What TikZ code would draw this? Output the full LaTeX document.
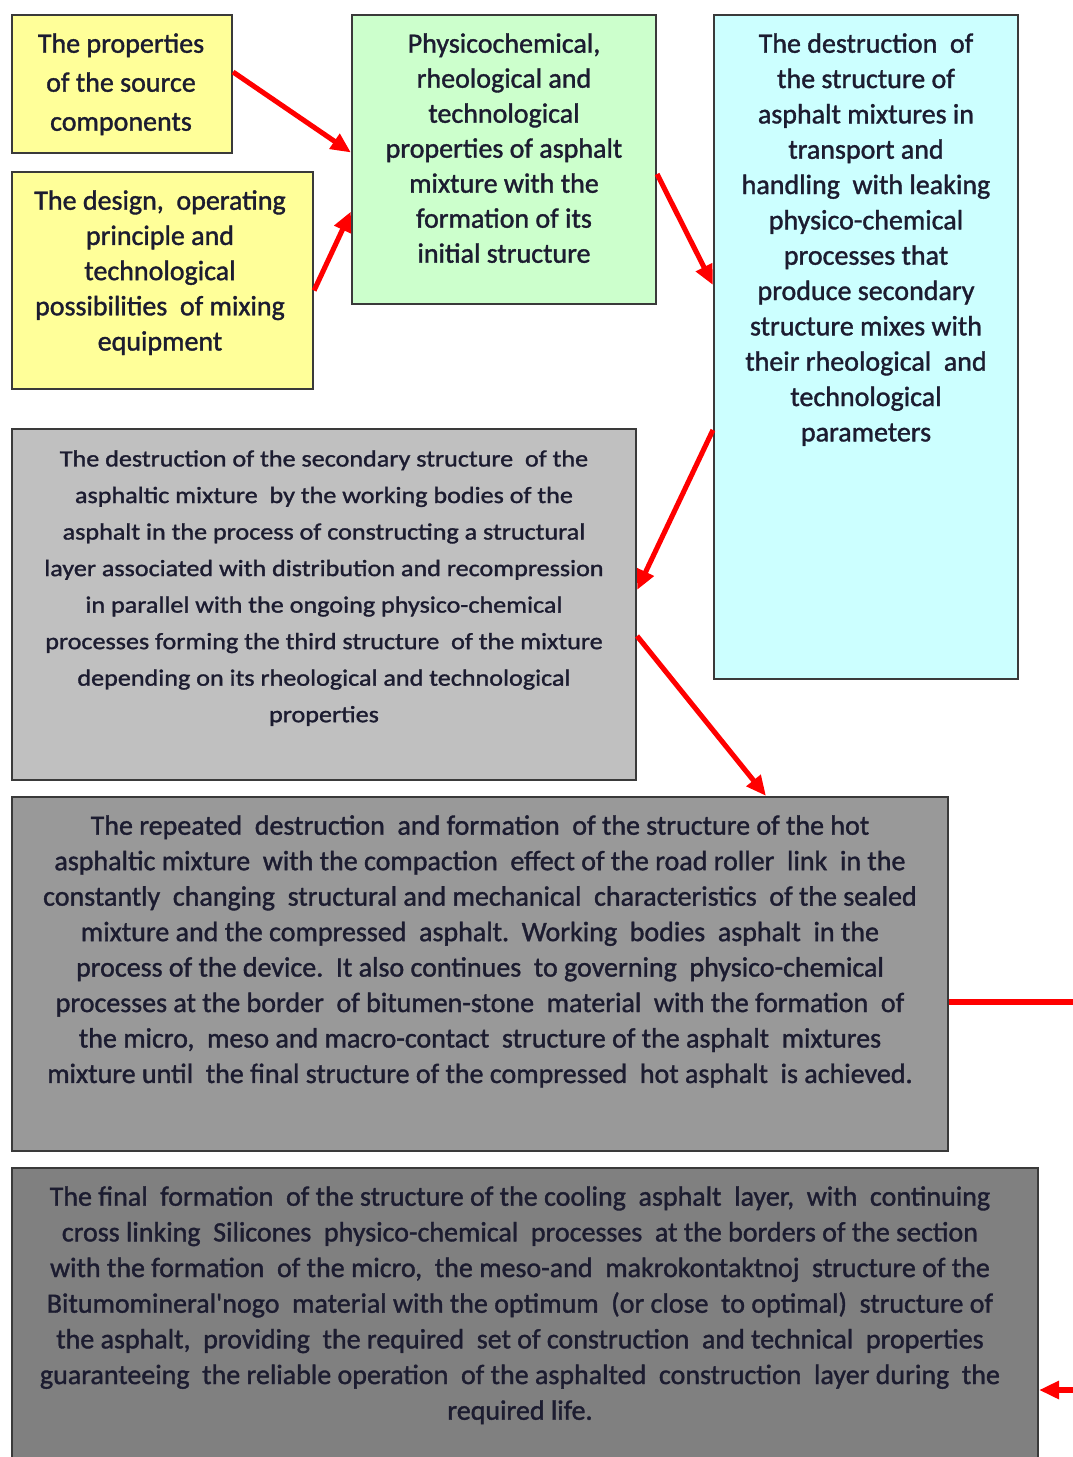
\documentclass[tikz,border=0pt]{standalone}
\usepackage{fontspec}
\setmainfont{Carlito}
\newfontfamily\mainf[FakeBold=1.3]{Carlito}
\newfontfamily\efont[FakeBold=1.3,FakeStretch=1.12]{Carlito}
\usetikzlibrary{arrows.meta,fit,calc}
\definecolor{cyel}{HTML}{FFFF99}
\definecolor{cgrn}{HTML}{CCFFCC}
\definecolor{ccyn}{HTML}{CCFFFF}
\definecolor{cg1}{HTML}{C0C0C0}
\definecolor{cg2}{HTML}{999999}
\definecolor{cg3}{HTML}{808080}
\definecolor{cred}{HTML}{FF0000}
\definecolor{cedge}{HTML}{3A3A3A}
\definecolor{ctext}{HTML}{1C1C30}
\tikzset{
  box/.style={draw=cedge, line width=1.6pt, inner sep=0pt, rectangle},
  txt/.style={anchor=north, align=center, inner sep=0pt, text=ctext},
  conn/.style={draw=cred, line width=3.8pt, -{Triangle[length=15pt,width=13pt]}},
}
\begin{document}
\begin{tikzpicture}[x=0.75pt,y=-0.75pt]
\useasboundingbox (0,0) rectangle (1073,1457);
\clip (0,0) rectangle (1073,1457);
\fill[white] (0,0) rectangle (1073,1457);
% boxes
\node[box, fill=cyel, fit={(12,15) (232,153)}] (A) {};
\node[box, fill=cyel, fit={(12,172) (313,389)}] (B) {};
\node[box, fill=cgrn, fit={(352,15) (656,304)}] (C) {};
\node[box, fill=ccyn, fit={(714,15) (1018,679)}] (D) {};
\node[box, fill=cg1, fit={(12,429) (636,780)}] (E) {};
\node[box, fill=cg2, fit={(12,797) (948,1151)}] (F) {};
\node[box, fill=cg3, fit={(12,1168) (1038,1480)}] (G) {};
% texts
\node[txt, font=\mainf\fontsize{21}{29.25}\selectfont] (At) at (121,33) {The properties\\of the source\\components};
\node[txt, font=\mainf\fontsize{21}{26.4}\selectfont] (Bt) at (160,190) {The design,\ \ operating\\principle and\\technological\\possibilities\ \ of mixing\\equipment};
\node[txt, font=\mainf\fontsize{21}{26.25}\selectfont] (Ct) at (504,33) {Physicochemical,\\rheological and\\technological\\properties of asphalt\\mixture with the\\formation of its\\initial structure};
\node[txt, font=\mainf\fontsize{21}{26.5}\selectfont] (Dt) at (866,33) {The destruction\ \ of\\the structure of\\asphalt mixtures in\\transport and\\handling\ \ with leaking\\physico-chemical\\processes that\\produce secondary\\structure mixes with\\their rheological\ \ and\\technological\\parameters};
\node[txt, font=\efont\fontsize{17.5}{27.4}\selectfont] (Et) at (324,450) {The destruction of the secondary structure\ \ of the\\asphaltic mixture\ \ by the working bodies of the\\asphalt in the process of constructing a structural\\layer associated with distribution and recompression\\in parallel with the ongoing physico-chemical\\processes forming the third structure\ \ of the mixture\\depending on its rheological and technological\\properties};
\node[txt, font=\mainf\fontsize{21}{26.6}\selectfont] (Ft) at (480,815) {The repeated\ \ destruction\ \ and formation\ \ of the structure of the hot\\asphaltic mixture\ \ with the compaction\ \ effect of the road roller\ \ link\ \ in the\\constantly\ \ changing\ \ structural and mechanical\ \ characteristics\ \ of the sealed\\mixture and the compressed\ \ asphalt.\ \ Working\ \ bodies\ \ asphalt\ \ in the\\process of the device.\ \ It also continues\ \ to governing\ \ physico-chemical\\processes at the border\ \ of bitumen-stone\ \ material\ \ with the formation\ \ of\\the micro,\ \ meso and macro-contact\ \ structure of the asphalt\ \ mixtures\\mixture until\ \ the final structure of the compressed\ \ hot asphalt\ \ is achieved.};
\node[txt, font=\mainf\fontsize{21}{26.75}\selectfont] (Gt) at (520,1186) {The final\ \ formation\ \ of the structure of the cooling\ \ asphalt\ \ layer,\ \ with\ \ continuing\\cross linking\ \ Silicones\ \ physico-chemical\ \ processes\ \ at the borders of the section\\with the formation\ \ of the micro,\ \ the meso-and\ \ makrokontaktnoj\ \ structure of the\\Bitumomineral'nogo\ \ material with the optimum\ \ (or close\ \ to optimal)\ \ structure of\\the asphalt,\ \ providing\ \ the required\ \ set of construction\ \ and technical\ \ properties\\guaranteeing\ \ the reliable operation\ \ of the asphalted\ \ construction\ \ layer during\ \ the\\required life.};
% connectors
\draw[conn] ($(A.east)+(0,-12)$) -- ($(C.west)+(0,-7)$);
\draw[conn] ($(B.east)+(0,10)$) -- ($(C.west)+(0,52)$);
\draw[conn] ($(C.east)+(0,14.5)$) -- ($(D.west)+(0,-62)$);
\draw[conn] ($(D.west)+(0,83)$) -- ($(E.east)+(0,-14.5)$);
\draw[conn] ($(E.east)+(0,31.5)$) -- ($(F.north)+(286,0)$);
\coordinate (R1) at (1100,1002);
\coordinate (R2) at (1100,1390);
\draw[conn] ($(F.east)+(0,28)$) -- (R1) -- (R2) -- ($(G.east)+(0,66)$);
\end{tikzpicture}
\end{document}
